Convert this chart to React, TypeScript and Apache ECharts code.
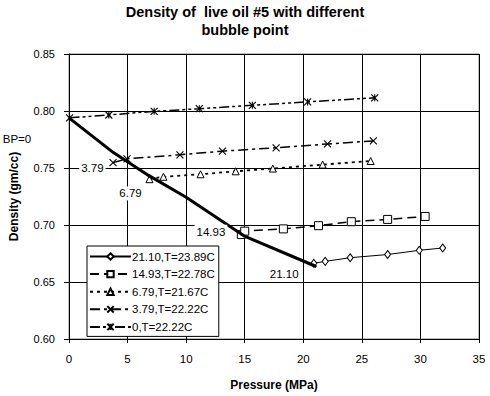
import React, { useEffect, useRef } from "react";
import * as echarts from "echarts";

const seriesNames = ["21.10,T=23.89C", "14.93,T=22.78C", "6.79,T=21.67C", "3.79,T=22.22C", "0,T=22.22C"];

const s2110: number[][] = [
  [20.9, 0.6664], [21.87, 0.6681], [24.0, 0.6713], [27.2, 0.6741], [29.9, 0.6778], [31.9, 0.6798],
];
const s1493: number[][] = [
  [14.71, 0.6916], [15.0, 0.6946], [18.3, 0.6966], [21.3, 0.6994], [24.1, 0.7029], [27.2, 0.7049], [30.4, 0.7075],
];
const s679: number[][] = [
  [6.87, 0.7402], [8.06, 0.7423], [11.23, 0.7445], [14.23, 0.7471], [17.4, 0.7495], [21.65, 0.753], [25.75, 0.7561],
];
const s379: number[][] = [
  [3.76, 0.7547], [4.95, 0.7581], [9.47, 0.7616], [13.1, 0.7648], [17.68, 0.7677], [22.07, 0.7711], [25.98, 0.7737],
];
const s0: number[][] = [
  [0.05, 0.794], [3.4, 0.7965], [7.27, 0.7997], [11.12, 0.802], [15.65, 0.805], [20.37, 0.808], [26.1, 0.8116],
];
const bubbleLine: number[][] = [
  [0, 0.794], [3.79, 0.7635], [6.79, 0.7435], [10, 0.7243], [14.93, 0.6905], [21.1, 0.6636],
];
const bubbleLabels: (string | null)[] = ["BP=0", "3.79", "6.79", null, "14.93", "21.10"];

const xTicks = { min: 0, max: 35, interval: 5 };
const yTicks = { min: 0.6, max: 0.85, interval: 0.05 };

const FONT = "'Liberation Sans', Arial, sans-serif";

export default function App() {
  const ref = useRef<HTMLDivElement>(null);
  useEffect(() => {
    if (!ref.current) return;
    const chart = echarts.init(ref.current, null, { renderer: "svg" });
    const labelOffsets: Record<string, number[]> = {
      "BP=0": [-52, 21],
      "3.79": [-21, 15],
      "6.79": [-18, 18],
      "14.93": [-33, -4],
      "21.10": [-32, 8],
    };
    const hollow = { color: "#fff", borderColor: "#000", borderWidth: 1 };
    const cross = { color: "none", borderColor: "#000", borderWidth: 1.1 };
    const option: any = {
      animation: false,
      backgroundColor: "#fff",
      textStyle: { fontFamily: FONT },
      title: {
        text: "Density of  live oil #5 with different\nbubble point",
        left: "center",
        top: -2,
        textStyle: { fontFamily: FONT, fontSize: 14.5, fontWeight: "bold", color: "#000", lineHeight: 18 },
      },
      grid: { left: 67, right: 11, top: 54, bottom: 53.3, show: true, borderColor: "#808080", borderWidth: 1 },
      xAxis: {
        type: "value",
        min: xTicks.min,
        max: xTicks.max,
        interval: xTicks.interval,
        name: "Pressure (MPa)",
        nameLocation: "middle",
        nameGap: 40,
        nameTextStyle: { fontFamily: FONT, fontSize: 12, fontWeight: "bold", color: "#000" },
        axisLine: { show: true, lineStyle: { color: "#000", width: 1 } },
        axisTick: { show: true, length: 4, lineStyle: { color: "#000" } },
        axisLabel: { fontFamily: FONT, fontSize: 11.5, color: "#000", margin: 14 },
        splitLine: { show: true, lineStyle: { color: "#000", width: 1 } },
      },
      yAxis: {
        type: "value",
        min: yTicks.min,
        max: yTicks.max,
        interval: yTicks.interval,
        name: "Density (gm/cc)",
        nameLocation: "middle",
        nameGap: 49,
        nameTextStyle: { fontFamily: FONT, fontSize: 12, fontWeight: "bold", color: "#000" },
        axisLine: { show: true, lineStyle: { color: "#000", width: 1 } },
        axisTick: { show: true, length: 5, lineStyle: { color: "#000" } },
        axisLabel: { fontFamily: FONT, fontSize: 11, color: "#000", margin: 14, formatter: (v: number) => v.toFixed(2) },
        splitLine: { show: true, lineStyle: { color: "#000", width: 1 } },
      },
      legend: {
        orient: "vertical",
        left: 87,
        top: 246,
        padding: [4, 4, 3, 2],
        backgroundColor: "#fff",
        borderColor: "#000",
        borderWidth: 1,
        borderRadius: 0,
        itemWidth: 41,
        itemHeight: 8,
        itemGap: 4.6,
        data: seriesNames,
        textStyle: { fontFamily: FONT, fontSize: 11.5, color: "#000", padding: [0, 0, 0, -4], lineHeight: 13 },
      },
      series: [
        {
          name: seriesNames[0], type: "line", data: s2110, symbol: "diamond", symbolSize: [6, 8],
          itemStyle: hollow, lineStyle: { color: "#000", width: 1, type: "solid" }, z: 3,
        },
        {
          name: seriesNames[1], type: "line", data: s1493, symbol: "rect", symbolSize: 8,
          itemStyle: hollow, lineStyle: { color: "#000", width: 1.5, type: [9, 5] }, z: 3,
        },
        {
          name: seriesNames[2], type: "line", data: s679, symbol: "triangle", symbolSize: 7,
          itemStyle: hollow, lineStyle: { color: "#000", width: 1.8, type: [3, 4] }, z: 3,
        },
        {
          name: seriesNames[3], type: "line", data: s379, symbol: "path://M0,0L10,10M10,0L0,10", symbolSize: 7,
          itemStyle: cross, lineStyle: { color: "#000", width: 1.5, type: [10, 4, 3, 4] }, z: 3,
        },
        {
          name: seriesNames[4], type: "line", data: s0, symbol: "path://M0,0L10,10M10,0L0,10M5,0L5,10", symbolSize: 7,
          itemStyle: cross, lineStyle: { color: "#000", width: 1.5, type: [10, 3, 3, 3, 3, 3] }, z: 3,
        },
        {
          name: "bubble", type: "line", z: 5,
          symbol: "circle", symbolSize: 1, itemStyle: { color: "#000" },
          lineStyle: { color: "#000", width: 3 },
          data: bubbleLine.map((p, i) => {
            const t = bubbleLabels[i];
            return {
              value: p,
              label: t
                ? {
                    show: true, formatter: t, position: "inside", offset: labelOffsets[t],
                    fontFamily: FONT, fontSize: 11.5, color: "#000", backgroundColor: "#fff", padding: [1, 2],
                  }
                : { show: false },
            };
          }),
        },
      ],
    };
    chart.setOption(option);
    return () => chart.dispose();
  }, []);
  return <div ref={ref} style={{ position: "fixed", left: 0, top: 0, width: 490, height: 396 }} />;
}
